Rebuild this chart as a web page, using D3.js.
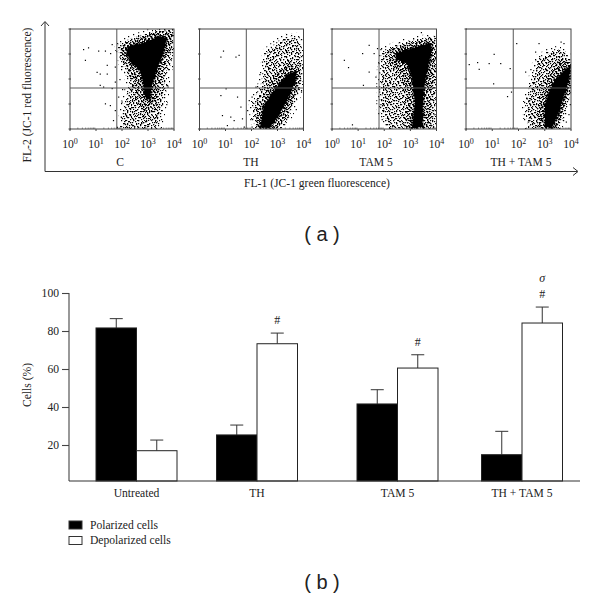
<!DOCTYPE html>
<html><head><meta charset="utf-8"><script src="https://cdn.jsdelivr.net/npm/d3@7"></script>
<style>html,body{margin:0;background:#fff}svg{display:block}text{font-family:"Liberation Serif",serif;fill:#222}</style></head>
<body><svg id="c" width="600" height="599"></svg>
<script>
// Bar chart values
const categories = ["Untreated","TH","TAM 5","TH + TAM 5"];
const polarized = [81.6,25.3,41.6,14.9];
const polarizedErr = [86.5,30.5,49.1,27.2];
const depolarized = [17,73.3,60.5,84.2];
const depolarizedErr = [22.6,78.9,67.5,92.6];
const marks = [[],["#"],["#"],["#","σ"]];
const barTicks = [20,40,60,80,100];
// Flow cytometry panels, log10 units
const panelNames = ["C","TH","TAM 5","TH + TAM 5"];
const logTicks = [0,1,2,3,4];
const gateX = [1.8,1.8,1.8,1.8];
const gateY = [1.64,1.64,1.64,1.64];
const denseC = [[2.24,3.30],[2.82,3.44],[3.46,3.71],[3.72,3.64],[3.59,3.04],[3.33,2.37],[3.14,1.70],[3.07,1.16],[2.88,1.30],[2.82,1.83],[2.69,2.37],[2.37,2.64],[2.17,3.04]];
const denseTH = [[2.34,.09],[2.47,.90],[2.85,1.50],[3.37,2.17],[3.69,2.30],[3.69,1.90],[3.37,1.16],[2.92,.36],[2.66,.03]];
const denseTAM = [[2.48,3.04],[3.12,3.24],[3.76,3.44],[3.82,3.10],[3.63,2.37],[3.50,1.43],[3.44,.09],[3.06,.03],[3.18,1.03],[3.06,2.10],[2.87,2.64],[2.48,2.77]];
const denseBoth = [[3.39,1.97],[3.84,2.44],[3.99,2.50],[3.90,1.90],[3.52,.63],[3.27,.03],[3.01,.09],[3.01,.90],[3.14,1.43]];
const midC = [[2.0,3.35],[2.6,3.6],[3.5,3.85],[3.85,3.75],[3.75,3.1],[3.5,2.3],[3.35,1.5],[3.2,.8],[2.9,.7],[2.6,1.2],[2.6,1.9],[2.35,2.4],[2.05,2.8]];
const midTH = [[2.25,.05],[2.3,.8],[2.65,1.55],[3.0,2.2],[3.5,2.6],[3.82,2.4],[3.8,1.8],[3.5,1.0],[3.1,.3],[2.85,.03]];
const midTAM = [[2.3,3.15],[3.0,3.4],[3.7,3.55],[3.92,3.3],[3.8,2.3],[3.7,1.3],[3.7,.1],[2.85,.05],[2.95,.9],[2.85,1.7],[2.65,2.3],[2.3,2.6]];
const midBoth = [[2.8,.05],[2.8,.9],[3.0,1.7],[3.2,2.2],[3.6,2.7],[3.99,2.7],[3.99,1.8],[3.7,.8],[3.45,.05]];
const sparseC = [[1.92,3.30],[2.43,3.57],[3.46,3.91],[3.97,3.97],[3.95,3.30],[3.65,2.10],[3.59,1.30],[3.33,.09],[2.04,.03],[2.11,.76],[2.37,1.83],[2.11,2.50]];
const sparseTH = [[2.21,.09],[2.08,.90],[2.47,1.83],[2.60,3.04],[3.24,3.57],[3.76,3.64],[3.88,3.04],[3.88,1.97],[3.63,1.16],[3.24,.23],[2.98,.03]];
const sparseTAM = [[1.97,3.04],[2.61,3.37],[3.63,3.57],[3.99,3.64],[3.99,2.10],[3.89,.09],[2.23,.03],[1.91,.76],[1.91,2.10]];
const sparseBoth = [[2.44,.09],[2.32,.90],[2.57,1.97],[2.76,2.77],[3.33,3.10],[3.71,3.04],[3.99,2.57],[3.99,1.83],[3.71,.76],[3.46,.03]];
const dotsC = [[.69,3.27],[.5,3.2],[1.34,3.14],[1.6,3.4],[1.08,3.14],[.57,2.77],[1.41,2.57],[1.02,2.29],[1.14,2.22],[1.41,2.22],[1.14,1.77],[1.27,1.7],[1.6,1.64],[1.34,1.03],[1.53,.96],[1.72,.76],[1.54,3.04],[1.72,2.5],[1.72,1.9],[1.65,.36],[1.8,.09],[1.85,1.3],[1.9,2.0],[1.95,.5],[1.98,1.1],[2.0,1.6],[1.9,2.9],[2.0,2.8],[3.75,1.7],[3.7,1.0],[3.5,.4],[3.8,2.4],[3.85,2.8]];
const dotsTH = [[.9,3.14],[.8,2.9],[1.38,2.9],[1.5,2.97],[1.0,1.63],[.8,1.36],[.86,.56],[1.18,.5],[1.44,1.3],[1.57,.9],[1.63,.43],[1.31,.36],[1.05,.16],[1.83,.76],[1.89,1.16],[1.95,.4],[2.0,1.3],[2.15,1.7],[2.3,2.2],[2.4,2.7],[3.9,1.5],[3.7,.8],[3.4,.5],[3.95,2.6],[2.0,.1],[1.7,.1]];
const dotsTAM = [[1.4,3.37],[1.15,3.04],[1.59,3.04],[1.72,3.24],[.45,2.77],[.61,2.48],[1.4,2.3],[1.18,1.77],[.76,.19],[1.78,2.64],[1.66,2.1],[3.4,3.88],[1.85,3.2],[1.88,2.8],[1.8,1.5],[1.85,1.0],[1.9,.4],[2.05,.2],[3.95,1.2],[3.92,.6]];
const dotsBoth = [[.1,2.6],[.42,2.68],[.86,2.64],[.48,2.41],[1.3,2.64],[1.66,2.44],[1.05,3.01],[1.03,1.83],[1.71,1.5],[1.56,1.32],[1.91,3.44],[2.76,3.44],[3.71,3.44],[2.63,3.1],[2.25,2.3],[2.32,1.23],[2.2,.6],[2.35,.3],[2.45,2.4],[3.6,3.5],[3.8,.3],[3.95,1.0],[3.9,.6]];
const dense = [denseC,denseTH,denseTAM,denseBoth];
const mid = [midC,midTH,midTAM,midBoth];
const sparse = [sparseC,sparseTH,sparseTAM,sparseBoth];
const dots = [dotsC,dotsTH,dotsTAM,dotsBoth];

const svg = d3.select("#c");
const ink = "#333";
const defs = svg.append("defs");
defs.append("filter").attr("id","soft").append("feGaussianBlur").attr("stdDeviation",.3);
// Stipple tiles with different periods, stacked so the speckle never visibly repeats
const tile = (id,size,cells)=>{
  const p = defs.append("pattern").attr("id",id).attr("width",size).attr("height",size).attr("patternUnits","userSpaceOnUse");
  cells.forEach(c=>p.append("rect").attr("x",c[0]).attr("y",c[1]).attr("width",1.2).attr("height",1.2).attr("fill","#000"));
};
tile("s1",11,[[0,1],[3,0],[6,2],[9,1],[1,4],[4,3],[8,4],[2,6],[5,5],[10,6],[0,8],[3,8],[7,7],[9,9],[5,10],[1,10]]);
tile("s2",13,[[1,0],[5,1],[10,0],[3,3],[8,3],[12,4],[0,5],[6,6],[10,7],[2,8],[4,9],[8,10],[12,10],[0,11],[6,12]]);
tile("s3",17,[[2,1],[9,2],[14,0],[5,4],[12,5],[1,7],[8,8],[15,9],[4,11],[11,12],[16,13],[7,14],[2,15],[13,16]]);
tile("s4",7,[[0,0],[3,1],[5,3],[1,3],[4,5],[2,6],[6,6]]);

// Panel (a)
const panelLeft = [70,199.5,332,466];
const panelW = [104,104,104.5,105];
const py = d3.scaleLinear([0,4],[129,29]);
const nameX = d3.scaleOrdinal(panelNames,[120,251,376,521]);
const line = d3.line();
const clip = defs.selectAll("clipPath").data(panelNames).join("clipPath").attr("id",(d,i)=>"p"+i);
panelNames.forEach((name,i)=>{
  const px = d3.scaleLinear([0,4],[panelLeft[i],panelLeft[i]+panelW[i]]);
  d3.select(clip.nodes()[i]).append("rect").attr("x",px(0)).attr("y",py(4)).attr("width",panelW[i]).attr("height",100);
  const g = svg.append("g");
  const pts = a=>a.map(d=>[px(d[0]),py(d[1])]);
  const cloud = g.append("g").attr("clip-path",`url(#p${i})`).append("g").attr("filter","url(#soft)");
  // the s2/s3 layers also run past the outline, so the cloud fades instead of ending on a hard edge
  [["s1",0],["s2",5],["s3",11]].forEach(s=>cloud.append("path").attr("d",line(pts(sparse[i]))+"Z").attr("fill",`url(#${s[0]})`).attr("stroke",s[1]?`url(#${s[0]})`:"none").attr("stroke-width",s[1]).attr("stroke-linejoin","round"));
  [["s4",5],["s1",0]].forEach(s=>cloud.append("path").attr("d",line(pts(mid[i]))+"Z").attr("fill",`url(#${s[0]})`).attr("stroke",s[1]?`url(#${s[0]})`:"none").attr("stroke-width",s[1]).attr("stroke-linejoin","round"));
  cloud.append("path").attr("d",line(pts(dense[i]))+"Z").attr("fill","#000").attr("stroke","#000").attr("stroke-width",3).attr("stroke-dasharray","1 1.5 2 1").attr("stroke-linejoin","round");
  cloud.selectAll("rect.d").data(dots[i]).join("rect").attr("class","d").attr("x",d=>px(d[0])).attr("y",d=>py(d[1])).attr("width",1.2).attr("height",1.2).attr("fill","#000");
  g.append("rect").attr("x",px(0)).attr("y",py(4)).attr("width",panelW[i]).attr("height",100).attr("fill","none").attr("stroke","#444").attr("stroke-width",1);
  g.append("line").attr("x1",px(gateX[i])).attr("x2",px(gateX[i])).attr("y1",py(0)).attr("y2",py(4)).attr("stroke","#555");
  g.append("line").attr("x1",px(0)).attr("x2",px(4)).attr("y1",py(gateY[i])).attr("y2",py(gateY[i])).attr("stroke","#555");
  const minor = logTicks.slice(0,4).flatMap(t=>[2,3,4,5,6,7,8,9].map(m=>t+Math.log10(m)));
  g.selectAll("line.mx").data(minor).join("line").attr("class","mx").attr("x1",d=>px(d)).attr("x2",d=>px(d)).attr("y1",129).attr("y2",127.5).attr("stroke","#444").attr("stroke-width",.6);
  g.selectAll("line.my").data(logTicks).join("line").attr("class","my").attr("x1",px(0)-1.5).attr("x2",px(0)+1).attr("y1",d=>py(d)).attr("y2",d=>py(d)).attr("stroke","#444");
  g.selectAll("line.tx").data(logTicks).join("line").attr("class","tx").attr("x1",d=>px(d)).attr("x2",d=>px(d)).attr("y1",129).attr("y2",131).attr("stroke","#444");
  const tl = g.selectAll("text.t").data(logTicks).join("text").attr("class","t").attr("x",d=>px(d)).attr("y",148).attr("text-anchor","middle").attr("font-size",11.6).text("10");
  tl.append("tspan").attr("dy",-4).attr("font-size",8).text(d=>d);
  g.append("text").attr("x",nameX(name)).attr("y",166).attr("text-anchor","middle").attr("font-size",11.6).text(name);
});
// Outer arrows of panel (a)
svg.append("path").attr("fill","none").attr("stroke",ink).attr("stroke-width",1).attr("d","M45,22V171.5H577M41,26L45,21.5L49,26M573,167.5L578,171.5L573,175.5");
svg.append("text").attr("transform","translate(31,95) rotate(-90)").attr("text-anchor","middle").attr("font-size",11.6).text("FL-2 (JC-1 red fluorescence)");
svg.append("text").attr("x",317).attr("y",187).attr("text-anchor","middle").attr("font-size",11.6).text("FL-1 (JC-1 green fluorescence)");
const tag=(t,y)=>svg.append("text").attr("x",322).attr("y",y).attr("text-anchor","middle").attr("font-size",20).style("font-family","'Liberation Sans',sans-serif").text(t);
tag("( a )",241);tag("( b )",589);

// Panel (b)
const y = d3.scaleLinear([0,100],[483,293]);
const yBase = 481;
const xc = d3.scaleOrdinal(categories,[136.5,257,397.5,522]);
const bw = 40.5;
const ax = svg.append("g").attr("transform","translate(69,0)").call(d3.axisLeft(y).tickValues(barTicks).tickSize(7).tickFormat(d3.format("d")));
ax.selectAll("path,line").attr("stroke","#444").attr("stroke-width",1.1);
ax.select(".domain").attr("d","M0,293V481");
ax.selectAll("text").attr("font-size",11.6).style("font-family","'Liberation Serif',serif").attr("fill","#222");
const series = [{v:polarized,e:polarizedErr,fill:"#000",dx:-bw},{v:depolarized,e:depolarizedErr,fill:"#fff",dx:0}];
series.forEach(s=>{
  const g = svg.append("g");
  const rows = categories.map((c,i)=>({c,v:s.v[i],e:s.e[i]}));
  g.selectAll("line.s").data(rows).join("line").attr("class","s").attr("x1",d=>xc(d.c)+s.dx+bw/2).attr("x2",d=>xc(d.c)+s.dx+bw/2).attr("y1",d=>y(d.v)).attr("y2",d=>y(d.e)).attr("stroke","#333").attr("stroke-width",1);
  g.selectAll("line.c").data(rows).join("line").attr("class","c").attr("x1",d=>xc(d.c)+s.dx+bw/2-6.5).attr("x2",d=>xc(d.c)+s.dx+bw/2+6.5).attr("y1",d=>y(d.e)).attr("y2",d=>y(d.e)).attr("stroke","#333").attr("stroke-width",1);
  g.selectAll("rect").data(rows).join("rect").attr("x",d=>xc(d.c)+s.dx).attr("y",d=>y(d.v)).attr("width",bw).attr("height",d=>yBase-y(d.v)).attr("fill",s.fill).attr("stroke","#222").attr("stroke-width",1);
});
svg.append("line").attr("x1",69).attr("x2",580).attr("y1",yBase).attr("y2",yBase).attr("stroke","#333").attr("stroke-width",1.1);
svg.selectAll("text.cat").data(categories).join("text").attr("class","cat").attr("x",d=>xc(d)).attr("y",497).attr("text-anchor","middle").attr("font-size",11.6).text(d=>d);
categories.forEach((c,i)=>marks[i].forEach((m,k)=>{
  svg.append("text").attr("x",xc(c)+bw/2).attr("y",y(depolarizedErr[i])-9-k*16).attr("text-anchor","middle").attr("font-size",12).attr("font-style",m=="σ"?"italic":"normal").text(m);
}));
svg.append("text").attr("transform","translate(31,385) rotate(-90)").attr("text-anchor","middle").attr("font-size",11.6).text("Cells (%)");
// Legend
[["Polarized cells","#000",525],["Depolarized cells","#fff",540.5]].forEach(r=>{
  svg.append("rect").attr("x",69).attr("y",r[2]-4).attr("width",13).attr("height",8).attr("fill",r[1]).attr("stroke","#333");
  svg.append("text").attr("x",90).attr("y",r[2]+3.5).attr("font-size",11.6).text(r[0]);
});
</script></body></html>
